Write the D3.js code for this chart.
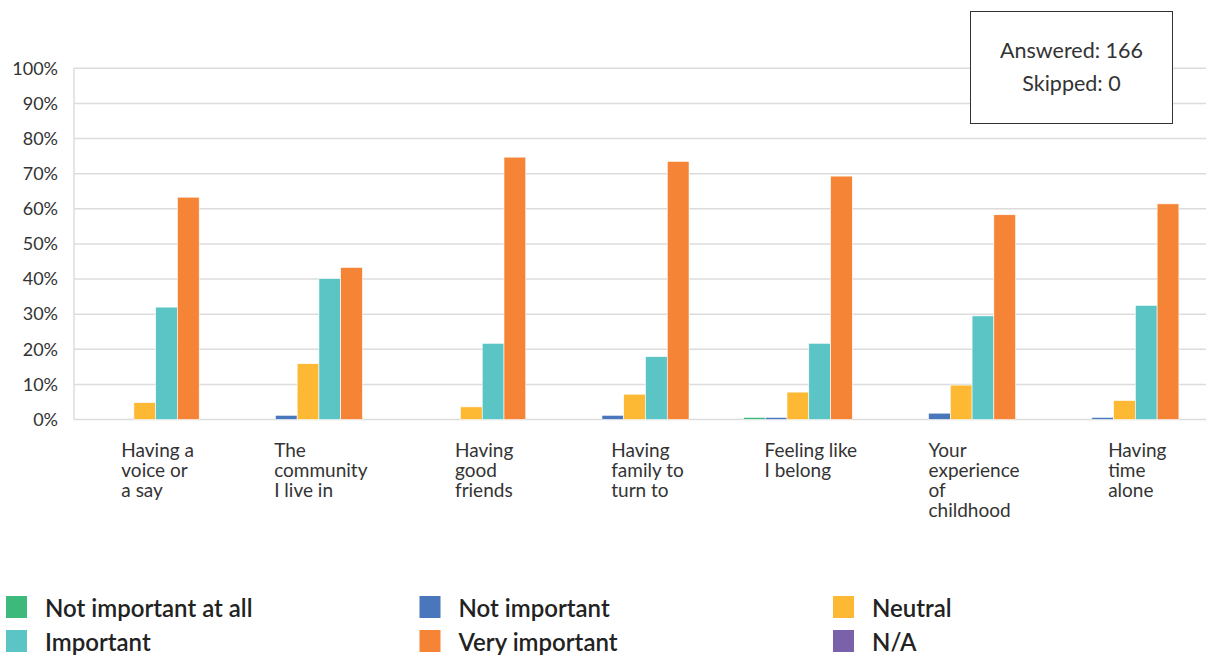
<!DOCTYPE html>
<html>
<head>
<meta charset="utf-8">
<script src="https://cdn.jsdelivr.net/npm/d3@7"></script>
<style>
  body { margin: 0; background: #fff; }
  svg { display: block; font-family: Lato, "Open Sans", sans-serif; }
</style>
</head>
<body>
<svg id="chart" width="1206" height="656"></svg>
<script>
// categories, wrapped as they appear under the axis
const categories = [
  ["Having a", "voice or", "a say"],
  ["The", "community", "I live in"],
  ["Having", "good", "friends"],
  ["Having", "family to", "turn to"],
  ["Feeling like", "I belong"],
  ["Your", "experience", "of", "childhood"],
  ["Having", "time", "alone"],
];

const seriesNames = ["Not important at all", "Not important", "Neutral", "Important", "Very important", "N/A"];
const seriesColors = ["#3cb97b", "#4a77bc", "#fdb933", "#5bc5c6", "#f58436", "#7a62aa"];

// percent of respondents, one array per series
const notAtAll = [0, 0, 0, 0, 0.6, 0, 0];
const notImportant = [0, 1.2, 0, 1.2, 0.6, 1.8, 0.6];
const neutral = [4.8, 15.9, 3.6, 7.2, 7.8, 9.8, 5.4];
const important = [32.0, 40.1, 21.7, 17.9, 21.7, 29.5, 32.5];
const veryImportant = [63.3, 43.3, 74.7, 73.5, 69.3, 58.3, 61.4];
const na = [0, 0, 0, 0, 0, 0, 0];

const yTicks = [0, 10, 20, 30, 40, 50, 60, 70, 80, 90, 100];

const answered = 166;
const skipped = 0;

const series = [notAtAll, notImportant, neutral, important, veryImportant, na];

const svg = d3.select("#chart");
const width = 1206;

const plot = { left: 74, right: 1217, top: 68.3, bottom: 419.5 };

const x0 = d3.scaleBand()
  .domain(d3.range(categories.length))
  .range([plot.left, plot.right]);

const x1 = d3.scaleBand()
  .domain(d3.range(series.length))
  .range([x0.bandwidth() * 0.1, x0.bandwidth() * 0.9]);

const y = d3.scaleLinear().domain([0, 100]).range([plot.bottom, plot.top]);

// gridlines
svg.append("g")
  .selectAll("line")
  .data(yTicks)
  .enter()
  .append("line")
  .attr("x1", plot.left)
  .attr("x2", width)
  .attr("y1", (d) => y(d))
  .attr("y2", (d) => y(d))
  .attr("stroke", "#dcdcdc")
  .attr("stroke-width", 1.5);

// left axis line
svg.append("line")
  .attr("x1", plot.left)
  .attr("x2", plot.left)
  .attr("y1", y(100))
  .attr("y2", y(0))
  .attr("stroke", "#dcdcdc")
  .attr("stroke-width", 1.5);

// y labels
const yAxis = d3.axisLeft(y)
  .tickValues(yTicks)
  .tickFormat((d) => d + "%")
  .tickSize(0)
  .tickPadding(16);

svg.append("g")
  .attr("transform", `translate(${plot.left},0)`)
  .call(yAxis)
  .call((g) => g.select(".domain").remove())
  .selectAll("text")
  .attr("font-family", "Lato, sans-serif")
  .attr("font-size", 18)
  .attr("fill", "#333");

// bars
const groups = svg.append("g")
  .selectAll("g")
  .data(categories.map((c, i) => i))
  .enter()
  .append("g")
  .attr("transform", (i) => `translate(${x0(i)},0)`);

groups.selectAll("rect")
  .data((i) => series.map((s, k) => ({ k, v: s[i] })))
  .enter()
  .append("rect")
  .filter((d) => d.v > 0)
  .attr("x", (d) => x1(d.k))
  .attr("width", x1.bandwidth())
  .attr("y", (d) => y(d.v))
  .attr("height", (d) => y(0) - y(d.v))
  .attr("fill", (d) => seriesColors[d.k])
  .attr("stroke", "#fff")
  .attr("stroke-width", 0.6);

// category labels, block centred on the group, lines left aligned
const labels = svg.append("g")
  .selectAll("text")
  .data(categories)
  .enter()
  .append("text")
  .attr("font-size", 19)
  .attr("fill", "#333")
  .attr("y", 457);

labels.selectAll("tspan")
  .data((d) => d)
  .enter()
  .append("tspan")
  .attr("x", 0)
  .attr("dy", (d, i) => (i === 0 ? 0 : 20))
  .text((d) => d);

labels.each(function (d, i) {
  const w = this.getBBox().width;
  const left = x0(i) + x0.bandwidth() / 2 - w / 2 + 2;
  d3.select(this).selectAll("tspan").attr("x", left);
});

// legend
const legend = svg.append("g")
  .selectAll("g")
  .data(seriesNames)
  .enter()
  .append("g")
  .attr("transform", (d, i) => `translate(${6 + (i % 3) * 413.5},${596 + Math.floor(i / 3) * 34})`);

legend.append("rect")
  .attr("width", 21)
  .attr("height", 22)
  .attr("fill", (d, i) => seriesColors[i]);

legend.append("text")
  .attr("x", 39)
  .attr("y", 21)
  .attr("font-size", 24)
  .attr("font-weight", 600)
  .attr("fill", "#222")
  .text((d) => d);

// answered / skipped box
const box = svg.append("g");
box.append("rect")
  .attr("x", 970.5)
  .attr("y", 11.5)
  .attr("width", 202)
  .attr("height", 112)
  .attr("fill", "#fff")
  .attr("stroke", "#333")
  .attr("stroke-width", 1);

box.selectAll("text")
  .data([`Answered: ${answered}`, `Skipped: ${skipped}`])
  .enter()
  .append("text")
  .attr("x", 1071.5)
  .attr("y", (d, i) => 58 + i * 33)
  .attr("text-anchor", "middle")
  .attr("font-size", 21.5)
  .attr("fill", "#333")
  .text((d) => d);
</script>
</body>
</html>
